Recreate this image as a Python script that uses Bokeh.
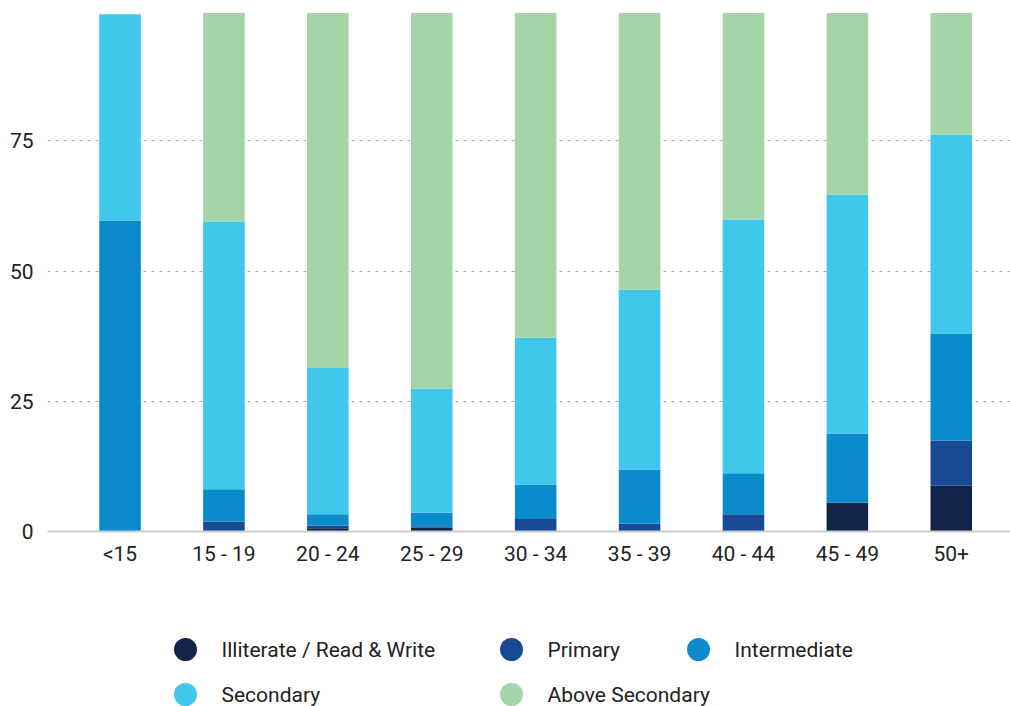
from bokeh.plotting import figure
from bokeh.models import FixedTicker, Range1d
from bokeh.layouts import column
from bokeh.core.properties import value
from bokeh.embed import file_html
from bokeh.resources import INLINE

categories = ["<15", "15 - 19", "20 - 24", "25 - 29", "30 - 34", "35 - 39", "40 - 44", "45 - 49", "50+"]
series = ["Illiterate / Read & Write", "Primary", "Intermediate", "Secondary", "Above Secondary"]
illiterate = [0.0, 0.0, 0.6, 0.7, 0.0, 0.0, 0.0, 5.5, 8.8]
primary = [0.0, 1.9, 0.55, 0.3, 2.4, 1.5, 3.3, 0.0, 8.6]
intermediate = [59.7, 6.2, 2.15, 2.6, 6.6, 10.4, 7.9, 13.3, 20.6]
secondary = [39.6, 51.4, 28.1, 23.8, 28.2, 34.5, 48.7, 45.9, 38.2]
above_secondary = [0.0, 40.0, 68.1, 72.1, 62.3, 53.1, 39.6, 34.8, 23.3]
colors = ["#13244a", "#174a93", "#0b8bcc", "#3fc8ec", "#a3d5a9"]
y_ticks = [0, 25, 50, 75]

FONT = "Roboto"
TEXT_COLOR = "#222222"
W = 1010
LEFT = 47
keys = ["s0", "s1", "s2", "s3", "s4"]
data = {"x": list(range(len(categories)))}
for k, vals in zip(keys, [illiterate, primary, intermediate, secondary, above_secondary]):
    data[k] = vals

p = figure(width=W, height=576, output_backend="svg", toolbar_location=None,
           x_range=Range1d(-0.698, 8.57), y_range=Range1d(0, 100),
           min_border_left=LEFT, min_border_top=10, min_border_right=0,
           min_border_bottom=45)
p.outline_line_color = None

p.vbar_stack(keys, x="x", width=0.4, color=colors, line_color=None, source=data)

p.xaxis.ticker = FixedTicker(ticks=list(range(len(categories))))
p.xaxis.major_label_overrides = {i: c for i, c in enumerate(categories)}
p.xaxis.major_tick_line_color = None
p.xaxis.minor_tick_line_color = None
p.xaxis.axis_line_color = "#cccccc"
p.xaxis.axis_line_width = 2
p.xaxis.major_label_text_font = FONT
p.xaxis.major_label_text_font_size = "21px"
p.xaxis.major_label_text_color = TEXT_COLOR
p.xaxis.major_label_standoff = 4

p.yaxis.ticker = FixedTicker(ticks=y_ticks)
p.yaxis.major_tick_line_color = None
p.yaxis.minor_tick_line_color = None
p.yaxis.axis_line_color = None
p.yaxis.major_label_text_font = FONT
p.yaxis.major_label_text_font_size = "21px"
p.yaxis.major_label_text_color = TEXT_COLOR
p.yaxis.major_label_standoff = 8

p.xgrid.grid_line_color = None
p.ygrid.grid_line_color = "#aaaaaa"
p.ygrid.grid_line_dash = "3 5"
p.ygrid.grid_line_width = 1

# legend panel (page-pixel coordinates)
leg = figure(width=W, height=130, output_backend="svg", toolbar_location=None,
             x_range=Range1d(LEFT, W), y_range=Range1d(706, 576),
             x_axis_location=None, y_axis_location=None,
             min_border_left=LEFT, min_border_right=0, min_border_top=0,
             min_border_bottom=0)
leg.outline_line_color = None
leg.grid.visible = False

col_x = [185, 511, 698]
row_y = [649, 694]
lx, ly, ltx = [], [], []
for i, name in enumerate(series):
    lx.append(col_x[i % 3])
    ly.append(row_y[i // 3])
    ltx.append(col_x[i % 3] + 36)
leg.scatter(x=lx, y=ly, size=23, color=colors, marker="circle", line_color=None)
leg.text(x=ltx, y=ly, text=series, text_font=value(FONT), text_font_size="21px",
         text_color=TEXT_COLOR, text_baseline="middle", text_align="left")

layout = column(p, leg, spacing=0)
open("out.html", "w").write(file_html(layout, INLINE))
